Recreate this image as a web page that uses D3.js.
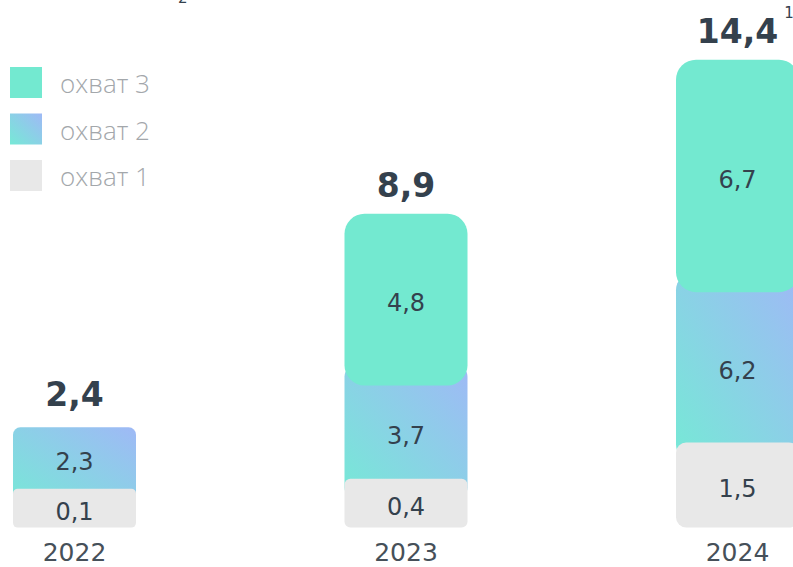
<!DOCTYPE html>
<html>
<head>
<meta charset="utf-8">
<script src="https://cdn.jsdelivr.net/npm/d3@7"></script>
<style>
  body { margin: 0; background: #fff; }
  svg { display: block; }
</style>
</head>
<body>
<div id="chart"></div>
<script>
// Data
const years = ["2022", "2023", "2024"];
const scope1 = [0.1, 0.4, 1.5];
const scope2 = [2.3, 3.7, 6.2];
const scope3 = [null, 4.8, 6.7];
const totals = [2.4, 8.9, 14.4];
const legendLabels = ["охват 3", "охват 2", "охват 1"];

const width = 793;
const height = 567;
const baseline = 527.5;

const fmt = v => String(v.toFixed(1)).replace(".", ",");

const svg = d3.select("#chart")
    .append("svg")
    .attr("width", width)
    .attr("height", height);

// gradient for охват 2
const defs = svg.append("defs");
const grad = defs.append("linearGradient")
    .attr("id", "grad2")
    .attr("x1", 0).attr("y1", 1)
    .attr("x2", 1).attr("y2", 0);
grad.append("stop").attr("offset", "0%").attr("stop-color", "#76e9d6");
grad.append("stop").attr("offset", "100%").attr("stop-color", "#9fb9f6");

const colors = { s1: "#e8e8e8", s2: "url(#grad2)", s3: "#73e9d0" };
const textColor = "#34414d";

// x position of bars
const step = 331.5, bw = 123, x0 = 13;
const x = d3.scaleBand()
    .domain(years)
    .range([x0, x0 + 2 * step + bw])
    .paddingInner((step - bw) / step)
    .paddingOuter(0);

// stylised segment heights (segments are not strictly proportional in the original)
const h1 = d3.scaleLinear().domain([0, 1]).range([35.5, 68.5]);
const h2 = d3.scaleLinear().domain([0, 1]).range([9, 31.8]);
const h3 = d3.scaleLinear().domain([0, 1]).range([18, 50]);

const bars = years.map((year, i) => {
    const g1 = h1(scope1[i]);
    const g2 = h2(scope2[i]);
    const g3 = scope3[i] == null ? 0 : h3(scope3[i]);
    const top1 = baseline - g1;
    const top2 = top1 - g2;
    const top3 = top2 - g3;
    return { year, i, top1, top2, top3, g1, g2, g3 };
});

const radius = h => Math.min(20, h * 0.12);

const barG = svg.append("g").attr("class", "bars");

// охват 2 drawn first, it runs under the neighbouring segments
barG.selectAll("rect.s2")
    .data(bars)
    .enter().append("rect")
    .attr("class", "s2")
    .attr("x", d => x(d.year))
    .attr("width", x.bandwidth())
    .attr("y", d => d.g3 ? d.top2 - 20 : d.top2)
    .attr("height", d => (d.top1 + 20) - (d.g3 ? d.top2 - 20 : d.top2))
    .attr("rx", d => radius(d.g2))
    .attr("fill", colors.s2);

barG.selectAll("rect.s1")
    .data(bars)
    .enter().append("rect")
    .attr("class", "s1")
    .attr("x", d => x(d.year))
    .attr("width", x.bandwidth())
    .attr("y", d => d.top1)
    .attr("height", d => d.g1)
    .attr("rx", d => radius(d.g1))
    .attr("fill", colors.s1);

barG.selectAll("rect.s3")
    .data(bars.filter(d => d.g3 > 0))
    .enter().append("rect")
    .attr("class", "s3")
    .attr("x", d => x(d.year))
    .attr("width", x.bandwidth())
    .attr("y", d => d.top3)
    .attr("height", d => d.g3)
    .attr("rx", d => radius(d.g3))
    .attr("fill", colors.s3);

// value labels
const valueLabels = [];
bars.forEach(d => {
    valueLabels.push({ year: d.year, v: scope1[d.i], y: (d.top1 + baseline) / 2 });
    valueLabels.push({ year: d.year, v: scope2[d.i], y: (d.top2 + d.top1) / 2 });
    if (scope3[d.i] != null) valueLabels.push({ year: d.year, v: scope3[d.i], y: (d.top3 + d.top2) / 2 });
});

svg.append("g")
    .selectAll("text")
    .data(valueLabels)
    .enter().append("text")
    .attr("x", d => x(d.year) + x.bandwidth() / 2)
    .attr("y", d => d.y + 3)
    .attr("dy", "0.36em")
    .attr("text-anchor", "middle")
    .attr("font-family", "DejaVu Sans, sans-serif")
    .attr("font-size", 24)
    .attr("fill", textColor)
    .text(d => fmt(d.v));

// totals
const totalText = svg.append("g")
    .selectAll("text")
    .data(bars)
    .enter().append("text")
    .attr("x", d => x(d.year) + x.bandwidth() / 2)
    .attr("y", d => d.top3 - (d.g3 ? 17 : 21))
    .attr("text-anchor", "middle")
    .attr("font-family", "DejaVu Sans, sans-serif")
    .attr("font-weight", "bold")
    .attr("font-size", 33)
    .attr("fill", textColor)
    .text(d => fmt(totals[d.i]));

// footnote mark on the last total
const last = bars[bars.length - 1];
const lastW = totalText.nodes()[bars.length - 1].getComputedTextLength();
svg.append("text")
    .attr("x", x(last.year) + x.bandwidth() / 2 + lastW / 2 + 6)
    .attr("y", last.top3 - 42)
    .attr("font-family", "DejaVu Sans, sans-serif")
    .attr("font-size", 15)
    .attr("fill", textColor)
    .text("1");

// cut-off superscript from the title above the picture
svg.append("text")
    .attr("x", 178)
    .attr("y", 3)
    .attr("font-family", "DejaVu Sans, sans-serif")
    .attr("font-size", 15)
    .attr("fill", textColor)
    .text("2");

// year labels
svg.append("g")
    .selectAll("text")
    .data(years)
    .enter().append("text")
    .attr("x", d => x(d) + x.bandwidth() / 2)
    .attr("y", 561)
    .attr("text-anchor", "middle")
    .attr("font-family", "DejaVu Sans, sans-serif")
    .attr("font-size", 25)
    .attr("fill", "#465059")
    .text(d => d);

// legend
const legend = svg.append("g")
    .selectAll("g")
    .data(legendLabels)
    .enter().append("g")
    .attr("transform", (d, i) => `translate(10, ${67 + i * 46.5})`);

legend.append("rect")
    .attr("width", 32)
    .attr("height", 31)
    .attr("fill", (d, i) => [colors.s3, colors.s2, colors.s1][i]);

legend.append("text")
    .attr("x", 50)
    .attr("y", 26)
    .attr("font-family", "Open Sans, sans-serif")
    .attr("font-weight", 300)
    .attr("font-size", 26)
    .attr("fill", "#a3a7ab")
    .text(d => d);
</script>
</body>
</html>
